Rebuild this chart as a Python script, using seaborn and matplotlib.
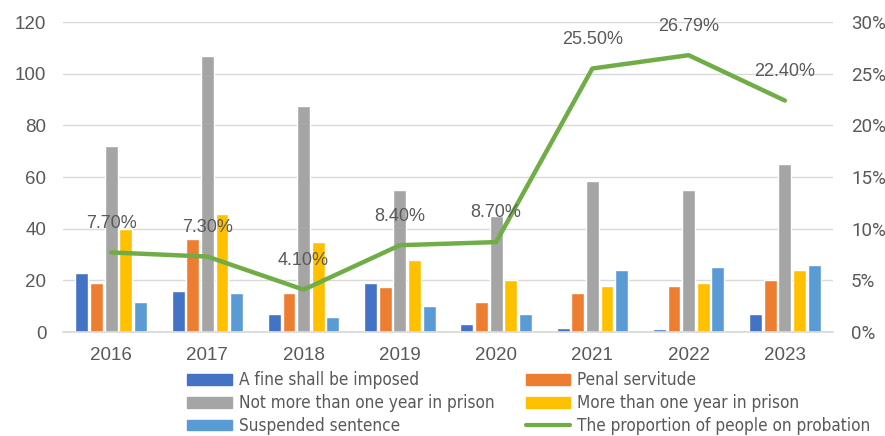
import matplotlib
matplotlib.use("Agg")
import matplotlib.pyplot as plt
import seaborn as sns
import pandas as pd
import numpy as np
from matplotlib.patches import Patch
from matplotlib.lines import Line2D
from matplotlib import font_manager

years = ["2016", "2017", "2018", "2019", "2020", "2021", "2022", "2023"]
fine = [23, 16, 7, 19, 3, 1.5, 1, 7]
penal = [19, 36, 15, 17.5, 11.5, 15, 18, 20]
not_more_1y = [72, 107, 87.5, 55, 45, 58.5, 55, 65]
more_1y = [40, 45.5, 35, 28, 20, 18, 19, 24]
suspended = [11.5, 15, 6, 10, 7, 24, 25, 26]
probation = [7.70, 7.30, 4.10, 8.40, 8.70, 25.50, 26.79, 22.40]
prob_labels = ["7.70%", "7.30%", "4.10%", "8.40%", "8.70%", "25.50%", "26.79%", "22.40%"]

series_names = ["A fine shall be imposed", "Penal servitude",
                "Not more than one year in prison", "More than one year in prison",
                "Suspended sentence"]
line_name = "The proportion of people on probation"
colors = ["#4472C4", "#ED7D31", "#A5A5A5", "#FFC000", "#5B9BD5"]
green = "#70AD47"

sns.set_theme(style="white")
plt.rcParams["font.family"] = ["Liberation Sans", "DejaVu Sans"]
txt = "#595959"

cond = None
for f in font_manager.fontManager.ttflist:
    if f.weight in ("normal", 400, "regular") and f.style == "normal" and (
            "Narrow" in f.name or "Condensed" in f.name or f.stretch in ("condensed", "semi-condensed", 500 - 125)):
        cond = f
        break

rows = []
for name, vals in zip(series_names, [fine, penal, not_more_1y, more_1y, suspended]):
    for y, v in zip(years, vals):
        rows.append({"year": y, "value": v, "series": name})
df = pd.DataFrame(rows)

fig = plt.figure(figsize=(8.85, 4.36), dpi=100)
ax = fig.add_axes([0.0712, 0.2385, 0.870, 0.711])
sns.barplot(data=df, x="year", y="value", hue="series", hue_order=series_names,
            palette=colors, width=0.76, gap=0.12, ax=ax, legend=False,
            saturation=1, errorbar=None)
ax.set_ylim(0, 120)
ax.set_yticks(range(0, 121, 20))
ax.set_xlim(-0.5, 7.5)
ax.grid(axis="y", color="#D9D9D9", linewidth=1)
ax.set_axisbelow(True)
for s in ["top", "right", "left"]:
    ax.spines[s].set_visible(False)
ax.spines["bottom"].set_color("#D9D9D9")
ax.set_xlabel("")
ax.set_ylabel("")
ax.tick_params(axis="both", length=0, labelsize=13.5, colors=txt)
ax.tick_params(axis="x", pad=11)
ax.tick_params(axis="y", pad=12)

ax2 = ax.twinx()
ldf = pd.DataFrame({"pos": np.arange(len(years)), "prob": probation})
sns.lineplot(data=ldf, x="pos", y="prob", color=green, linewidth=3.2, ax=ax2)
ax2.set_ylim(0, 30)
ax2.set_yticks(range(0, 31, 5))
ax2.set_yticklabels([f"{t}%" for t in range(0, 31, 5)])
ax2.set_xlim(-0.5, 7.5)
for s in ["top", "right", "left", "bottom"]:
    ax2.spines[s].set_visible(False)
ax2.set_xlabel("")
ax2.set_ylabel("")
ax2.tick_params(axis="y", length=0, labelsize=13.5, colors=txt, pad=13)
for lab in ax2.get_yticklabels():
    lab.set_family(["Roboto", "Liberation Sans"])
for x, v, lab in zip(ldf["pos"], probation, prob_labels):
    ax2.annotate(lab, (x, v), xytext=(0, 21), textcoords="offset points",
                 ha="center", va="center", fontsize=13, color=txt)

if cond is not None:
    lprop = font_manager.FontProperties(fname=cond.fname, size=12.3)
else:
    lprop = font_manager.FontProperties(family=["Liberation Sans"], size=11)

handles = [Patch(color=colors[0]), Patch(color=colors[2]), Patch(color=colors[4]),
           Patch(color=colors[1]), Patch(color=colors[3]),
           Line2D([], [], color=green, linewidth=3)]
labels = [series_names[0], series_names[2], series_names[4],
          series_names[1], series_names[3], line_name]
fig.legend(handles, labels, ncol=2, loc="upper left", bbox_to_anchor=(0.2116, 0.148),
           frameon=False, prop=lprop,
           labelcolor=txt, handlelength=2.6,
           handleheight=0.6, columnspacing=1.85, labelspacing=0.28,
           handletextpad=0.4, borderaxespad=0, borderpad=0)

fig.savefig("out.png", dpi=100)
